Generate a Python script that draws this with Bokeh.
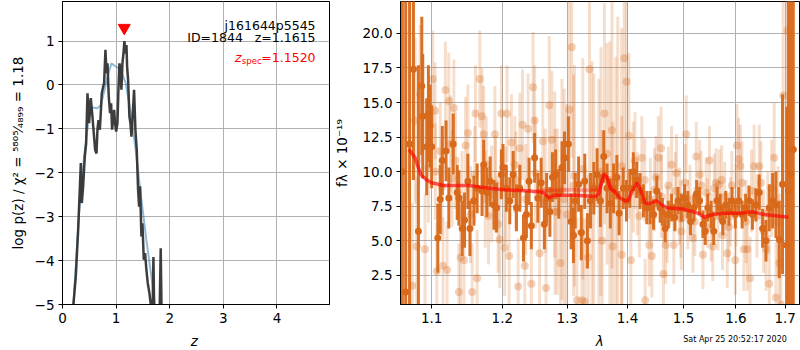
from bokeh.plotting import figure
from bokeh.layouts import row
from bokeh.models import Range1d, FixedTicker, CustomJSTickFormatter, Label
from bokeh.embed import file_html
from bokeh.resources import INLINE
import numpy as np

FONT = "DejaVu Sans"

# ---------------- left panel: redshift probability ----------------
z_ticks = [0, 1, 2, 3, 4]
logp_ticks = [-5, -4, -3, -2, -1, 0, 1]

z_smooth = [0.15, 0.204, 0.309, 0.403, 0.478, 0.54, 0.651, 0.713, 0.788, 0.85, 0.912,
            0.993, 1.086, 1.179, 1.272, 1.365, 1.458, 1.564, 1.675, 1.72, 1.8]
logp_smooth = [-6.0, -5.0, -2.92, -1.63, -0.87, -0.51, -0.53, -0.46, -0.10, 0.23, 0.49,
               0.42, 0.34, 0.04, -0.64, -1.48, -2.47, -3.53, -4.51, -5.0, -6.0]

z_grid = [0.15, 0.205, 0.248, 0.292, 0.342, 0.36, 0.385, 0.416, 0.441, 0.466,
          0.497, 0.516, 0.528, 0.553, 0.578, 0.609, 0.634, 0.652, 0.671, 0.696,
          0.714, 0.733, 0.758, 0.776, 0.801, 0.820, 0.839, 0.863, 0.888, 0.907,
          0.925, 0.944, 0.963, 0.981, 1.000, 1.025, 1.043, 1.062, 1.075, 1.099,
          1.118, 1.137, 1.155, 1.174, 1.193, 1.205, 1.224, 1.248, 1.267, 1.286,
          1.311, 1.335, 1.360, 1.385, 1.410, 1.429, 1.447, 1.472, 1.491, 1.516,
          1.540, 1.565, 1.590, 1.621, 1.646, 1.677, 1.696, 1.714, 1.807, 1.832,
          1.851]
logp = [-6.5, -4.98, -4.36, -3.30, -1.78, -2.69, -2.31, -1.63, -1.33, -0.19,
        -0.87, -0.42, -0.30, -0.64, -1.02, -1.48, -1.56, -1.02, -0.80, -1.02,
        -0.64, -0.19, -0.04, 0.04, 0.80, 0.27, 0.49, -0.27, -0.64, -0.42,
        -1.02, -0.80, -0.57, -0.87, -1.06, -0.87, -0.11, 0.49, 0.42, -0.11,
        0.49, 0.72, 1.00, 0.72, 0.91, 0.42, 0.11, -0.72, -0.87, -1.18,
        -0.64, -0.11, -1.02, -1.48, -2.39, -2.77, -2.31, -3.45, -3.15, -3.98,
        -3.83, -4.21, -4.51, -4.74, -5.0, -5.5, -3.92, -5.5, -5.5, -3.72,
        -5.5]

z_spec = 1.1520
z_spec_marker_level = 1.3
title_lines = ["j161644p5545", "ID=1844\u00a0\u00a0\u00a0z=1.1615"]
zspec_value_text = "=1.1520"
left_xlabel = "z"
left_ylabel = "log p(z) / \u03c7\u00b2 = \u2075\u2078\u2070\u2075\u2044\u2084\u2088\u2089\u2089 = 1.18"

# ---------------- right panel: spectrum ----------------
lam_ticks = [1.1, 1.2, 1.3, 1.4, 1.5, 1.6, 1.7]
flux_ticks = [2.5, 5.0, 7.5, 10.0, 12.5, 15.0, 17.5, 20.0]
right_xlabel = "\u03bb"
right_ylabel = "f\u03bb \u00d7 10\u207b\u00b9\u2079"

dark_wave = [1.0610, 1.0654, 1.0705, 1.0756, 1.0822, 1.0867, 1.0880, 1.0933, 1.0956, 1.0978,
             1.1000, 1.1084, 1.1117, 1.1145, 1.1197, 1.1235, 1.1296, 1.1352, 1.1375, 1.1422,
             1.1455, 1.1502, 1.1531, 1.1587, 1.1634, 1.1704, 1.1728, 1.1775, 1.1822, 1.1878,
             1.1915, 1.1986,
             1.2010, 1.2060, 1.2111, 1.2161, 1.2211, 1.2262, 1.2317, 1.2362, 1.2402, 1.2437,
             1.2487, 1.2538, 1.2588, 1.2638, 1.2673, 1.2724, 1.2764, 1.2814, 1.2864, 1.2915,
             1.2955,
             1.3017, 1.3061, 1.3099, 1.3127, 1.3182, 1.3226, 1.3282, 1.3326, 1.3376, 1.3431,
             1.3486, 1.3541, 1.3597, 1.3652, 1.3707, 1.3762, 1.3818, 1.3856, 1.3928, 1.3983,
             1.4041, 1.4101, 1.4160, 1.4219, 1.4278, 1.4337, 1.4396, 1.4456, 1.4515, 1.4574,
             1.4615, 1.4663, 1.4722, 1.4781, 1.4840, 1.4899, 1.4959,
             1.5019, 1.5081, 1.5131, 1.5194, 1.5244, 1.5300, 1.5363, 1.5406, 1.5456, 1.5519,
             1.5569, 1.5631, 1.5694, 1.5744, 1.5800, 1.5863, 1.5925, 1.5988,
             1.6055, 1.6123, 1.6192, 1.6260, 1.6329, 1.6397, 1.6466, 1.6534, 1.6603, 1.6671,
             1.6740, 1.6808, 1.6877, 1.6945, 1.7034, 1.7068, 1.7116, 1.7171]
dark_flux = [10.0, 1.3, 12.0, 17.4, 5.7, 16.2, 14.0, 11.8, 14.2, 13.3,
             11.8, 5.2, 8.0, 10.8, 11.5, 8.1, 12.0, 8.5, 8.1, 5.9,
             6.5, 9.3, 5.9, 7.9, 8.8, 8.6, 10.5, 8.5, 9.3, 7.6,
             7.4, 9.8,
             10.3, 8.8, 7.9, 9.8, 7.4, 8.8, 5.2, 6.9, 9.3, 6.1,
             11.0, 8.1, 9.2, 6.2, 8.1, 7.1, 9.6, 9.8, 8.4, 10.3,
             11.0,
             12.0, 6.4, 5.4, 7.9, 9.1, 5.6, 9.3, 5.0, 7.9, 8.8,
             9.8, 7.9, 11.1, 8.8, 7.7, 8.8, 9.6, 7.0, 8.8, 7.9,
             8.8, 10.0, 9.4, 8.6, 7.9, 7.4, 7.4, 6.9, 8.6, 7.4,
             7.1, 5.9, 6.9, 7.4, 6.7, 7.9, 7.4,
             8.1, 7.6, 6.4, 7.4, 8.4, 7.9, 6.2, 5.7, 7.4, 6.9,
             5.7, 7.9, 7.4, 6.4, 7.6, 7.1, 7.9, 6.9,
             7.9, 6.9, 7.4, 7.9, 6.9, 7.6, 8.5, 5.9, 5.0, 7.4,
             7.9, 7.6, 5.1, 9.1, 4.7, 8.6, 9.8, 11.6]
dark_err = [15, 25, 14, 8, 12, 5, 4.5, 3.5, 3.5, 3,
            3, 2.5, 2.5, 2.5, 2.2, 2.2, 2.2, 2, 2, 2,
            2, 2, 2, 1.8, 1.8, 1.8, 1.8, 1.8, 1.8, 1.8,
            1.8, 1.8,
            1.7, 1.7, 1.7, 1.7, 1.7, 1.7, 1.7, 1.7, 1.7, 1.7,
            1.8, 1.8, 1.8, 1.8, 1.8, 1.8, 1.8, 1.8, 1.8, 1.9,
            1.9,
            2.0, 2.0, 2.0, 2.0, 2.0, 2.0, 2.0, 2.0, 2.0, 1.9,
            1.9, 1.9, 1.9, 1.8, 1.8, 1.8, 1.6, 1.6, 1.5, 1.5,
            1.4, 1.4, 1.3, 1.3, 1.2, 1.2, 1.2, 1.1, 1.1, 1.1,
            1.0, 1.0, 1.0, 1.0, 1.0, 1.0, 1.0,
            1.0, 1.0, 1.0, 1.0, 1.0, 1.0, 1.0, 1.0, 1.0, 1.0,
            1.0, 1.0, 1.0, 1.0, 1.0, 1.0, 1.0, 1.0,
            1.0, 1.0, 1.0, 1.1, 1.1, 1.2, 1.3, 1.4, 1.5, 1.7,
            2.0, 2.4, 2.8, 6.5, 10, 14, 20, 30]

light_wave = [1.0742, 1.0778, 1.0800, 1.0845, 1.0911, 1.0956, 1.1014, 1.1047, 1.1070, 1.1117,
              1.1155, 1.1188, 1.1211, 1.1235, 1.1258, 1.1305, 1.1328, 1.1375, 1.1399, 1.1446,
              1.1469, 1.1502, 1.1539, 1.1563, 1.1610, 1.1634, 1.1671, 1.1704, 1.1728, 1.1765,
              1.1797, 1.1844, 1.1891, 1.1938, 1.1962, 1.1986, 1.2035, 1.2070, 1.2101, 1.2136,
              1.2186, 1.2237, 1.2262, 1.2302, 1.2337, 1.2387, 1.2437, 1.2463, 1.2487, 1.2563,
              1.2614, 1.2664, 1.2714, 1.2754, 1.2805, 1.2840, 1.2890, 1.2915, 1.2990, 1.3033,
              1.3072, 1.3116, 1.3155, 1.3238, 1.3282, 1.3337, 1.3359, 1.3431, 1.3514, 1.3569,
              1.3608, 1.3652, 1.3735, 1.3746, 1.3834, 1.3901, 1.3945, 1.3983, 1.4024, 1.4059,
              1.4130, 1.4207, 1.4249, 1.4308, 1.4379, 1.4426, 1.4473, 1.4544, 1.4592, 1.4633,
              1.4674, 1.4722, 1.4781, 1.4822, 1.4870, 1.4929, 1.4959, 1.5050, 1.5081, 1.5175,
              1.5238, 1.5300, 1.5363, 1.5425, 1.5488, 1.5550, 1.5613, 1.5675, 1.5738, 1.5831,
              1.5894, 1.5988, 1.6021, 1.6055, 1.6089, 1.6158, 1.6226, 1.6281, 1.6363, 1.6466,
              1.6555, 1.6603, 1.6671, 1.6774, 1.6808, 1.6877, 1.6911, 1.6959, 1.7048,
              1.1050, 1.1140, 1.1280, 1.1420, 1.1600, 1.1750, 1.1900, 1.2050, 1.2200, 1.2350,
              1.2500, 1.2650, 1.2800, 1.2950, 1.3100, 1.3250, 1.3400, 1.3550, 1.3700, 1.3800,
              1.3900, 1.4100, 1.4170, 1.4300, 1.4400, 1.4500, 1.4600, 1.4700, 1.4850, 1.4950,
              1.5030, 1.5120, 1.5210, 1.5330, 1.5450, 1.5520, 1.5580, 1.5650, 1.5720, 1.5780,
              1.5860, 1.5920, 1.6000, 1.6120, 1.6200, 1.6310, 1.6420, 1.6500, 1.6640, 1.6720,
              1.6850]
light_flux = [1.75, 13.7, 4.6, 15.6, 4.4, 10.3, 16.7, 14.4, 2.8, 11.5,
              3.2, 15.9, 2.9, 15.1, 12.0, 14.6, 10.8, 1.3, 3.8, 3.6,
              11.9, 12.8, 6.9, 1.3, 14.2, 2.3, 16.7, 14.0, 12.7, 10.5,
              6.8, 8.4, 12.7, 6.2, 5.1, 14.2, 4.5, 14.2, 3.9, 12.1,
              10.5, 1.7, 11.7, 13.4, 3.2, 13.1, 1.9, 16.1, 13.7, 4.1,
              12.2, 1.6, 14.8, 12.3, 7.1, 7.1, 3.4, 8.7, 6.9, 14.5,
              19.0, 9.7, 0.7, 0.7, 0.6, 3.8, 17.4, 8.1, 7.7, 5.0,
              14.2, 11.3, 13.0, 4.6, 9.2, 4.0, 18.2, 16.5, 12.6, 3.6,
              10.8, 6.8, 11.0, 0.7, 4.7, 3.9, 8.7, 11.0, 11.7, 2.6,
              4.7, 9.0, 10.5, 4.7, 9.9, 7.5, 5.7, 12.7, 6.9, 5.2,
              11.1, 9.8, 4.0, 8.5, 10.8, 4.6, 9.2, 9.1, 5.4, 4.1,
              7.1, 3.6, 11.9, 10.9, 10.4, 4.4, 4.4, 2.3, 10.4, 10.4,
              5.7, 4.4, 1.9, 11.0, 0.9, 3.4, 0.4, 15.5, 20.2,
              10.0, 8.9, 9.5, 8.0, 9.8, 8.0, 9.1, 8.3, 9.4, 8.0,
              9.9, 8.6, 9.8, 8.0, 9.0, 10.2, 9.0, 10.0, 9.4, 8.3,
              10.4, 9.6, 8.4, 9.4, 8.0, 9.6, 8.2, 6.2, 8.6, 6.6,
              9.2, 8.0, 6.4, 9.0, 7.0, 6.0, 8.8, 6.8, 9.4, 8.2,
              6.0, 9.0, 7.6, 9.2, 6.4, 8.6, 6.8, 9.2, 7.0, 8.8,
              6.4]
light_err = [6, 6, 5, 5, 4, 4, 3.5, 3.5, 3.5, 3.5,
             3.5, 3.5, 3.5, 3.5, 3.5, 3.5, 3.5, 3.5, 3.5, 3.5,
             3.5, 3.5, 3.5, 3.5, 3.5, 3.5, 3.5, 3.5, 3.5, 3.5,
             3.5, 3.5, 3.5, 3.5, 3.5, 3.5, 3.5, 3.5, 3.5, 3.5,
             3.5, 3.5, 4, 4, 4, 4, 4, 4, 4, 4,
             4.5, 4.5, 5, 5, 6, 6, 7, 8, 8, 8,
             8, 8, 6, 6, 6, 6, 8, 9, 9, 8,
             8, 8, 10, 9, 12, 10, 8, 8, 6, 5,
             3.5, 3, 3, 3, 3, 3, 3, 3, 3, 3,
             2.8, 2.8, 2.8, 2.8, 2.8, 2.8, 2.8, 2.8, 2.5, 2.5,
             2.5, 2.5, 2.5, 2.5, 2.5, 2.5, 2.5, 2.5, 2.5, 2.5,
             2.5, 2.5, 3, 3, 3, 3, 3, 3, 3, 3,
             3, 3, 3.5, 4, 4, 5, 6, 8, 10,
             3.5, 3.5, 3.5, 3.5, 3.5, 3.5, 3.5, 3.5, 3.5, 4,
             4, 4.5, 6, 8, 8, 8, 9, 9, 10, 10,
             10, 4, 3, 3, 3, 3, 3, 2.8, 2.8, 2.8,
             2.8, 2.5, 2.5, 2.5, 2.5, 2.5, 2.5, 2.5, 2.5, 2.5,
             2.5, 2.5, 3, 3, 3, 3, 3, 3, 3, 3.5,
             4]

model_wave = [1.0698, 1.0778, 1.0853, 1.0933, 1.1000, 1.1164, 1.1516, 1.1728, 1.2010, 1.2412,
              1.2614, 1.2714, 1.2789, 1.3127, 1.3459, 1.3514, 1.3597, 1.3652, 1.3707, 1.3790,
              1.3873, 1.3956, 1.4012, 1.4071, 1.4160, 1.4219, 1.4308, 1.4396, 1.4515, 1.4604,
              1.4692, 1.4988, 1.5269, 1.5394, 1.5456, 1.5550, 1.5769, 1.6089, 1.6329, 1.6569,
              1.6843, 1.7068]
model_flux = [11.6, 11.0, 9.8, 9.4, 9.2, 9.0, 9.0, 8.85, 8.7, 8.6,
              8.5, 8.1, 8.3, 8.3, 8.2, 8.4, 9.8, 9.6, 8.8, 8.5,
              8.1, 7.9, 7.9, 8.5, 9.2, 8.8, 7.7, 7.7, 7.9, 7.6,
              7.4, 7.3, 7.0, 6.7, 6.8, 6.9, 7.0, 7.0, 7.1, 6.9,
              6.8, 6.7]
model2_wave = [1.2500, 1.2700, 1.3000, 1.3300, 1.3500, 1.3560, 1.3600, 1.3660, 1.3720, 1.3800]
model2_flux = [8.6, 8.65, 8.7, 8.65, 8.7, 9.2, 9.9, 9.5, 8.8, 8.5]

timestamp = "Sat Apr 25 20:52:17 2020"

DARK = "#d8691a"
MINUS_FMT = CustomJSTickFormatter(code="return tick < 0 ? '\u2212' + Math.abs(tick) : String(tick);")
ONE_DEC = CustomJSTickFormatter(code="return tick.toFixed(1);")
BOTTOM = 46
ZR = (0, 4.98)
LOGPR = (-5, 1.9)
LAMR = (1.0586, 1.7303)
FLUXR = (0.4, 22.3)
TICK_FS = "13.5px"
NOTE_FS = "12.5px"


def style(p):
    p.outline_line_color = "black"
    p.outline_line_alpha = 1.0
    p.outline_line_width = 1
    p.background_fill_color = "white"
    p.border_fill_color = "white"
    for ax in p.axis:
        ax.axis_line_color = "black"
        ax.major_tick_line_color = "black"
        ax.major_tick_out = 4
        ax.major_tick_in = 0
        ax.minor_tick_line_color = None
        ax.major_label_text_font = FONT
        ax.major_label_text_font_size = TICK_FS
        ax.major_label_text_color = "black"
        ax.axis_label_text_font = FONT
        ax.axis_label_text_font_size = TICK_FS
        ax.axis_label_text_color = "black"
        ax.axis_label_text_font_style = "normal"
        ax.major_label_standoff = 4
        ax.axis_label_standoff = 4
    for g in p.grid:
        g.grid_line_color = "#b0b0b0"
        g.grid_line_width = 1


# ---------- left figure ----------
p1 = figure(width=331, height=350, output_backend="svg", toolbar_location=None,
            x_range=Range1d(*ZR), y_range=Range1d(*LOGPR),
            min_border_left=62, min_border_right=2, min_border_top=1, min_border_bottom=BOTTOM)
style(p1)
p1.xaxis.ticker = FixedTicker(ticks=z_ticks, minor_ticks=[])
p1.yaxis.ticker = FixedTicker(ticks=logp_ticks, minor_ticks=[])
p1.xgrid.ticker = FixedTicker(ticks=z_ticks, minor_ticks=[])
p1.ygrid.ticker = FixedTicker(ticks=logp_ticks, minor_ticks=[])
p1.yaxis.formatter = MINUS_FMT
p1.yaxis.axis_label = left_ylabel
p1.yaxis.axis_label_standoff = 6

p1.line(z_smooth, logp_smooth, line_color="#1f77b4", line_alpha=0.5, line_width=2)
p1.line(z_grid, logp, line_color="#333333", line_alpha=0.95, line_width=2.5)
p1.scatter([z_spec], [z_spec_marker_level], marker="inverted_triangle", size=12,
           fill_color="red", line_color="red")

p1.add_layout(Label(x=4.72, y=1.344, text=title_lines[0], text_align="right",
                    text_baseline="alphabetic", text_font=FONT, text_font_size=NOTE_FS,
                    text_color="black"))
p1.add_layout(Label(x=4.72, y=1.07, text=title_lines[1], text_align="right",
                    text_baseline="alphabetic", text_font=FONT, text_font_size=NOTE_FS,
                    text_color="black"))
p1.add_layout(Label(x=4.72, y=0.615, text=zspec_value_text, text_align="right",
                    text_baseline="alphabetic", text_font=FONT, text_font_size=NOTE_FS,
                    text_color="red"))
p1.add_layout(Label(x=4.72, y=0.615, x_offset=-54, y_offset=-3, text="spec", text_align="right",
                    text_baseline="alphabetic", text_font=FONT, text_font_size="8.5px",
                    text_color="red"))
p1.add_layout(Label(x=4.72, y=0.615, x_offset=-74, text="z", text_align="right",
                    text_baseline="alphabetic", text_font=FONT, text_font_size=NOTE_FS,
                    text_font_style="italic", text_color="red"))
# x-axis label, placed in the panel below the frame
p1.add_layout(Label(x=2.46, y=LOGPR[0], y_offset=-36, text=left_xlabel, text_align="center",
                    text_baseline="middle", text_font=FONT, text_font_size=TICK_FS,
                    text_font_style="italic", text_color="black"), "below")

# ---------- right figure ----------
p2 = figure(width=469, height=350, output_backend="svg", toolbar_location=None,
            x_axis_type="log", x_range=Range1d(*LAMR), y_range=Range1d(*FLUXR),
            min_border_left=67, min_border_right=1, min_border_top=1, min_border_bottom=BOTTOM)
style(p2)
p2.xaxis.ticker = FixedTicker(ticks=lam_ticks, minor_ticks=[])
p2.yaxis.ticker = FixedTicker(ticks=flux_ticks, minor_ticks=[])
p2.xgrid.ticker = FixedTicker(ticks=lam_ticks, minor_ticks=[])
p2.ygrid.ticker = FixedTicker(ticks=flux_ticks, minor_ticks=[])
p2.xaxis.formatter = ONE_DEC
p2.yaxis.formatter = ONE_DEC
p2.yaxis.axis_label = right_ylabel
p2.yaxis.axis_label_standoff = 9

lw = np.array(light_wave)
lf = np.array(light_flux)
le = np.array(light_err)
dw = np.array(dark_wave)
df = np.array(dark_flux)
de = np.array(dark_err)

p2.segment(x0=lw, y0=lf - le, x1=lw, y1=lf + le, line_color=DARK, line_alpha=0.22, line_width=3)
p2.scatter(lw, lf, size=8, fill_color=DARK, fill_alpha=0.3, line_color=None)
p2.segment(x0=dw, y0=df - de, x1=dw, y1=df + de, line_color=DARK, line_alpha=0.95, line_width=3)
p2.scatter(dw, df, size=7, fill_color=DARK, fill_alpha=1.0, line_color=None)
p2.line(model2_wave, model2_flux, line_color="red", line_alpha=0.3, line_width=3.5)
p2.line(model_wave, model_flux, line_color="red", line_alpha=0.65, line_width=3.5)

p2.add_layout(Label(x=1.353, y=FLUXR[0], y_offset=-36, text=right_xlabel, text_align="center",
                    text_baseline="middle", text_font=FONT, text_font_size=TICK_FS,
                    text_font_style="italic", text_color="black"), "below")
p2.add_layout(Label(x=1.7035, y=FLUXR[0], y_offset=-35, text=timestamp, text_align="right",
                    text_baseline="middle", text_font=FONT, text_font_size="8px",
                    text_color="black"), "below")

layout = row(p1, p2)
open("out.html", "w").write(file_html(layout, INLINE))
